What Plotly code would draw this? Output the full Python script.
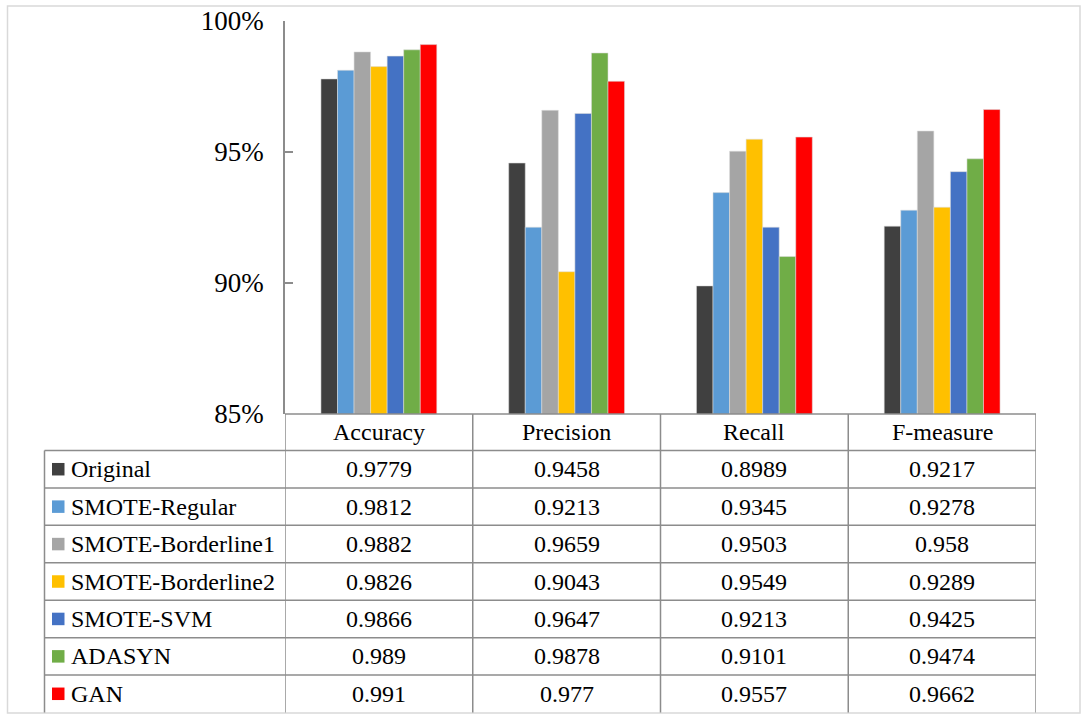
import plotly.graph_objects as go

# données
metrics = ['Accuracy', 'Precision', 'Recall', 'F-measure']
methods = ['Original', 'SMOTE-Regular', 'SMOTE-Borderline1', 'SMOTE-Borderline2',
           'SMOTE-SVM', 'ADASYN', 'GAN']
original = [0.9779, 0.9458, 0.8989, 0.9217]
smote_regular = [0.9812, 0.9213, 0.9345, 0.9278]
smote_borderline1 = [0.9882, 0.9659, 0.9503, 0.958]
smote_borderline2 = [0.9826, 0.9043, 0.9549, 0.9289]
smote_svm = [0.9866, 0.9647, 0.9213, 0.9425]
adasyn = [0.989, 0.9878, 0.9101, 0.9474]
gan = [0.991, 0.977, 0.9557, 0.9662]
y_ticks = [0.85, 0.90, 0.95, 1.00]

series = [original, smote_regular, smote_borderline1, smote_borderline2,
          smote_svm, adasyn, gan]
colors = ['#404040', '#5B9BD5', '#A5A5A5', '#FFC000', '#4472C4', '#70AD47', '#FF0000']

# mise en page (pixels)
W, H = 1088, 719
L, R, T, B = 285, 1036, 21, 414
TABLE_LEFT = 44.5
HEADER_BOTTOM = 450.5
ROW_H = 37.43
GRID = '#8C8C8C'
FONT = 'Liberation Serif, Times New Roman, serif'


def px_x(px):
    return (px - L) / (R - L)


def px_y(py):
    return (B - py) / (B - T)


fig = go.Figure()
for name, vals, col in zip(methods, series, colors):
    fig.add_trace(go.Bar(
        x=metrics, y=vals, name=name,
        marker=dict(color=col, line=dict(color='rgba(220,220,220,0.7)', width=0.8)),
    ))

shapes = []
# cadre extérieur
shapes.append(dict(type='rect', xref='paper', yref='paper',
                   x0=px_x(7.5), x1=px_x(1080), y0=px_y(6), y1=px_y(713),
                   line=dict(color='#D9D9D9', width=1.5), layer='below'))
# lignes horizontales du tableau
shapes.append(dict(type='line', xref='x', yref='paper', x0=-0.5, x1=len(metrics) - 0.5,
                   y0=0, y1=0, line=dict(color=GRID, width=1.5)))
for i in range(len(methods)):
    yy = HEADER_BOTTOM + ROW_H * i
    shapes.append(dict(type='line', xref='paper', yref='paper', x0=px_x(TABLE_LEFT), x1=1,
                       y0=px_y(yy), y1=px_y(yy), line=dict(color=GRID, width=1.5)))
# lignes verticales
for k in range(len(metrics) + 1):
    shapes.append(dict(type='line', xref='x', yref='paper', x0=k - 0.5, x1=k - 0.5,
                       y0=0, y1=px_y(712.5), line=dict(color=GRID, width=1.5)))
shapes.append(dict(type='line', xref='paper', yref='paper', x0=px_x(TABLE_LEFT), x1=px_x(TABLE_LEFT),
                   y0=px_y(HEADER_BOTTOM), y1=px_y(712.5), line=dict(color=GRID, width=1.5)))

txt = dict(family=FONT, size=24, color='black')
annotations = []
# en-têtes
for m in metrics:
    annotations.append(dict(x=m, xref='x', y=px_y((B + HEADER_BOTTOM) / 2), yref='paper',
                            yanchor='middle', text=m, showarrow=False, font=txt))
# lignes de données
for i, (name, vals, col) in enumerate(zip(methods, series, colors)):
    yc = px_y(HEADER_BOTTOM + ROW_H * (i + 0.5))
    shapes.append(dict(type='rect', xref='paper', yref='paper',
                       x0=px_x(52), x1=px_x(64.5), y0=yc - 6.25 / (B - T), y1=yc + 6.25 / (B - T),
                       fillcolor=col, line=dict(width=0)))
    annotations.append(dict(x=px_x(69), xref='paper', y=yc, yref='paper', xanchor='left',
                            yanchor='middle', text=name, showarrow=False, font=txt))
    for m, v in zip(metrics, vals):
        annotations.append(dict(x=m, xref='x', y=yc, yref='paper', yanchor='middle',
                                text=str(v), showarrow=False, font=txt))

fig.update_layout(
    width=W, height=H,
    margin=dict(l=L, r=W - R, t=T, b=H - B, pad=0, autoexpand=False),
    paper_bgcolor='white', plot_bgcolor='white',
    barmode='group', bargap=0.383, bargroupgap=0,
    showlegend=False,
    shapes=shapes, annotations=annotations,
    hovermode=False,
)
fig.update_xaxes(showticklabels=False, showgrid=False, zeroline=False, showline=False,
                 automargin=False, range=[-0.5, len(metrics) - 0.5])
fig.update_yaxes(range=[0.85, 1.0], tickvals=y_ticks, tickformat='.0%',
                 showgrid=False, zeroline=False, automargin=False,
                 showline=True, linecolor=GRID, linewidth=1.5,
                 ticks='inside', ticklen=8, tickcolor=GRID, tickwidth=1.5,
                 ticklabelstandoff=14,
                 tickfont=dict(family=FONT, size=27, color='black'))

fig.write_html("out.html", config={'displayModeBar': False},
               post_script="document.body.style.margin='0';")
